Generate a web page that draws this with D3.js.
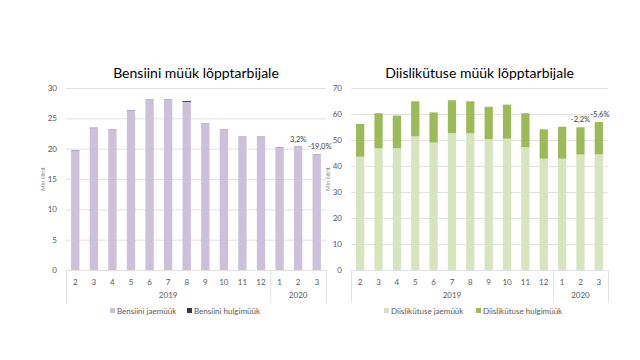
<!DOCTYPE html>
<html><head><meta charset="utf-8">
<script src="https://cdn.jsdelivr.net/npm/d3@7"></script>
<style>body{margin:0;background:#fff}svg{display:block}text{font-family:Lato,"Open Sans",sans-serif}</style>
</head><body>
<svg id="c" width="640" height="360"></svg>
<script>
const months = ["2","3","4","5","6","7","8","9","10","11","12","1","2","3"];
const years = [{label:"2019", from:0, to:11},{label:"2020", from:11, to:14}];
const petrolRetail = [19.7,23.4,23.1,26.3,28.1,28.1,27.7,24.1,23.1,22.0,22.0,20.2,20.3,19.0];
const petrolWholesale = [0.05,0.05,0.05,0.05,0.04,0.04,0.15,0.05,0.05,0.03,0.03,0.05,0.05,0.05];
const dieselRetail = [43.6,46.8,46.8,51.4,49.0,52.6,52.6,50.3,50.5,47.2,42.8,42.8,44.4,44.5];
const dieselWholesale = [12.6,13.5,12.6,13.5,11.6,12.7,12.3,12.5,13.1,13.1,11.3,12.3,10.5,12.4];
const petrolTicks = [0,5,10,15,20,25,30];
const dieselTicks = [0,10,20,30,40,50,60,70];
const petrolNotes = [{i:12,text:"3,2%",dx:0},{i:13,text:"-19,0%",dx:3}];
const dieselNotes = [{i:12,text:"-2,2%",dx:0},{i:13,text:"-5,6%",dx:1}];

const svg = d3.select("#c");
const gridCol="#d9d9d9", txtCol="#595959";
const FF = "Lato,'Open Sans',sans-serif";

function chart(cfg){
  const g = svg.append("g");
  const x = d3.scaleBand().domain(d3.range(months.length)).range([cfg.x0,cfg.x1]).paddingInner(0.55).paddingOuter(0.275);
  const y = d3.scaleLinear().domain([0,cfg.max]).range([270,88]);
  g.append("text").attr("x",(cfg.x0+cfg.x1)/2).attr("y",78).attr("text-anchor","middle")
    .attr("font-size",14).attr("fill","#000").text(cfg.title);
  g.selectAll(".gl").data(cfg.ticks.filter(t=>t>0)).join("line")
    .attr("x1",cfg.x0).attr("x2",cfg.x1).attr("y1",d=>y(d)+0.5).attr("y2",d=>y(d)+0.5)
    .attr("stroke",gridCol).attr("stroke-width",0.8);
  const ya = d3.axisLeft(y).tickValues(cfg.ticks).tickSize(0).tickPadding(9);
  const yg = g.append("g").attr("transform",`translate(${cfg.x0},0)`).call(ya);
  yg.select(".domain").remove();
  yg.selectAll("text").attr("font-size",8).attr("fill",txtCol).style("font-family",FF);
  g.append("text").attr("transform",`translate(${cfg.x0-21},${(88+270)/2}) rotate(-90)`)
    .attr("text-anchor","middle").attr("font-size",6).attr("fill","#8c8c8c").text("Mln liitrit");
  const data = months.map((m,i)=>({i, a:cfg.a[i], b:cfg.b[i]}));
  g.selectAll(".ba").data(data).join("rect")
    .attr("x",d=>x(d.i)).attr("width",x.bandwidth())
    .attr("y",d=>y(d.a)).attr("height",d=>y(0)-y(d.a)).attr("fill",cfg.ca);
  g.selectAll(".bb").data(data).join("rect")
    .attr("x",d=>x(d.i)).attr("width",x.bandwidth())
    .attr("y",d=>y(d.a+d.b)).attr("height",d=>y(d.a)-y(d.a+d.b)).attr("fill",cfg.cb);
  g.selectAll(".nt").data(cfg.notes).join("text")
    .attr("x",d=>x(d.i)+x.bandwidth()/2+d.dx).attr("y",d=>y(cfg.a[d.i]+cfg.b[d.i])-5)
    .attr("text-anchor","middle").attr("font-size",7.5).attr("fill","#404040").text(d=>d.text);
  g.append("line").attr("x1",cfg.x0).attr("x2",cfg.x1).attr("y1",270.5).attr("y2",270.5).attr("stroke",gridCol).attr("stroke-width",0.8);
  const step = x.step();
  const xa = d3.axisBottom(x).tickFormat(i=>months[i]).tickSize(0).tickPadding(9);
  const xg = g.append("g").attr("transform","translate(0,270)").call(xa);
  xg.select(".domain").remove();
  xg.selectAll("text").attr("font-size",8).attr("fill",txtCol).style("font-family",FF);
  const bnd = i => i===0 ? cfg.x0 : (i===months.length ? cfg.x1 : x(i) - (step-x.bandwidth())/2);
  const edges = [0, ...years.map(yr=>yr.to)];
  g.selectAll(".sep").data(edges).join("line")
    .attr("x1",i=>bnd(i)+0.5).attr("x2",i=>bnd(i)+0.5)
    .attr("y1",270).attr("y2",303)
    .attr("stroke",gridCol).attr("stroke-width",0.8);
  g.selectAll(".yr").data(years).join("text")
    .attr("x",d=>(bnd(d.from)+bnd(d.to))/2)
    .attr("y",298).attr("text-anchor","middle").attr("font-size",8).attr("fill",txtCol).text(d=>d.label);
  const lg = g.append("g");
  cfg.legend.forEach((l,k)=>{
    lg.append("rect").attr("x",l.x).attr("y",308).attr("width",5).attr("height",5).attr("fill",k===0?cfg.ca:cfg.cb);
    lg.append("text").attr("x",l.x+7).attr("y",313.5).attr("font-size",8).attr("fill",txtCol).text(l.t);
  });
}

chart({x0:66,x1:326,max:30,ticks:petrolTicks,a:petrolRetail,b:petrolWholesale,notes:petrolNotes,
  title:"Bensiini müük lõpptarbijale",ca:"#ccc1da",cb:"#3f3151",
  legend:[{x:110,t:"Bensiini jaemüük"},{x:187,t:"Bensiini hulgimüük"}]});
chart({x0:351,x1:608,max:70,ticks:dieselTicks,a:dieselRetail,b:dieselWholesale,notes:dieselNotes,
  title:"Diislikütuse müük lõpptarbijale",ca:"#d7e4bd",cb:"#9bbb59",
  legend:[{x:384,t:"Diislikütuse jaemüük"},{x:476,t:"Diislikütuse hulgimüük"}]});
</script>
</body></html>
